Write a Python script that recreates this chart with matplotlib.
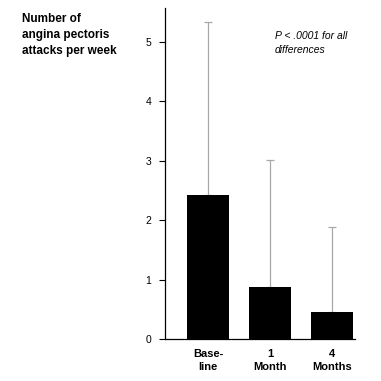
import numpy as np
import matplotlib.pyplot as plt

plt.rcParams['font.family'] = ['Liberation Sans', 'DejaVu Sans']

# Data
groups = ["Base-\nline", "1\nMonth", "4\nMonths"]
means = [2.42, 0.88, 0.45]
upper_sd = [2.92, 2.14, 1.43]  # upper error (top of whisker minus mean)

fig = plt.figure(figsize=(3.81, 3.81), dpi=100)
ax = fig.add_axes([0.433, 0.110, 0.499, 0.869])

x = np.arange(len(groups))
ax.bar(x, means, width=0.68, color='black', zorder=2)
ax.errorbar(x, means, yerr=[np.zeros(len(means)), upper_sd], fmt='none',
            ecolor='#a8a8a8', elinewidth=0.9, capsize=3, capthick=0.9, zorder=1)

ax.set_xlim(-0.70, 2.38)
ax.set_ylim(0, 5.57)
ax.set_yticks([0, 1, 2, 3, 4, 5])
ax.set_xticks(x)
ax.set_xticklabels(groups, fontsize=8, fontweight='bold', linespacing=1.45)
ax.tick_params(axis='x', length=0, pad=7)
ax.tick_params(axis='y', labelsize=7.5, length=4, width=0.8, pad=6)
ax.spines['top'].set_visible(False)
ax.spines['right'].set_visible(False)
ax.spines['left'].set_linewidth(0.9)
ax.spines['bottom'].set_linewidth(0.9)

fig.text(22/381, 1 - 13/381, "Number of\nangina pectoris\nattacks per week",
         ha='left', va='top', fontsize=8.5, fontweight='bold', linespacing=1.45)
fig.text(275/381, 1 - 31/381, "P < .0001 for all\ndifferences",
         ha='left', va='top', fontsize=7.5, style='italic', linespacing=1.5)

fig.savefig("out.png", dpi=100)
